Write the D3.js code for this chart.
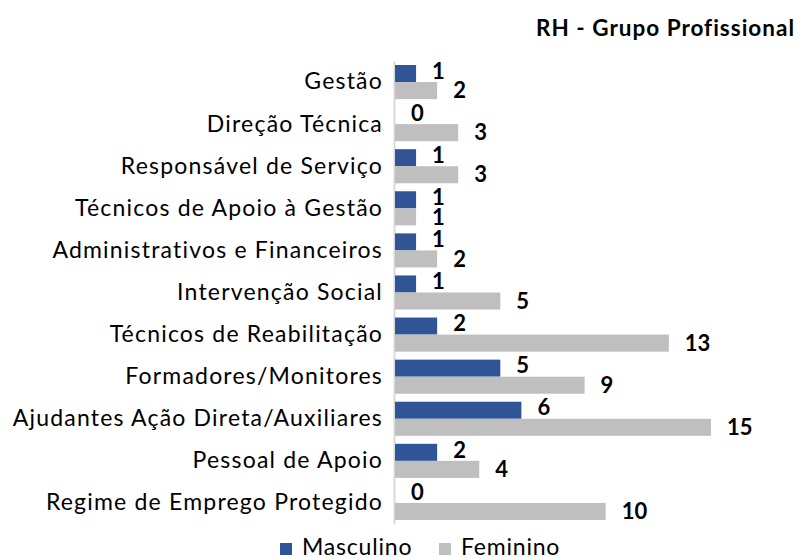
<!DOCTYPE html>
<html>
<head>
<meta charset="utf-8">
<script src="https://cdn.jsdelivr.net/npm/d3@7"></script>
<style>
  body { margin: 0; background: #fff; }
  text { font-family: Lato, "Open Sans", sans-serif; }
</style>
</head>
<body>
<div id="chart"></div>
<script>
// data
const categories = [
    "Gestão",
    "Direção Técnica",
    "Responsável de Serviço",
    "Técnicos de Apoio à Gestão",
    "Administrativos e Financeiros",
    "Intervenção Social",
    "Técnicos de Reabilitação",
    "Formadores/Monitores",
    "Ajudantes Ação Direta/Auxiliares",
    "Pessoal de Apoio",
    "Regime de Emprego Protegido"
];
const masculino = [1, 0, 1, 1, 1, 1, 2, 5, 6, 2, 0];
const feminino = [2, 3, 3, 1, 2, 5, 13, 9, 15, 4, 10];
const seriesNames = ["Masculino", "Feminino"];
const seriesColors = ["#2F5597", "#BFBFBF"];

const W = 801, H = 558;
const x0 = 395;

const svg = d3.select("#chart")
    .append("svg")
    .attr("width", W)
    .attr("height", H);

// scales
const xScale = d3.scaleLinear()
    .domain([0, 15])
    .range([x0, 711]);

const yScale = d3.scaleBand()
    .domain(categories)
    .range([61, 524])
    .paddingInner(0.19)
    .paddingOuter(0.095);

const inner = d3.scaleBand()
    .domain(seriesNames)
    .range([0, yScale.bandwidth()]);

// title
svg.append("text")
    .attr("x", 795)
    .attr("y", 36)
    .attr("text-anchor", "end")
    .style("font-weight", "bold")
    .style("font-size", "22.5px")
    .style("letter-spacing", "1px")
    .text("RH - Grupo Profissional");

// category axis
const yAxis = svg.append("g")
    .attr("transform", "translate(" + (x0 - 1) + ",0)")
    .call(d3.axisLeft(yScale).tickSize(0).tickPadding(11));
yAxis.select(".domain")
    .attr("stroke", "#D9D9D9")
    .attr("stroke-width", 2);
yAxis.selectAll(".tick text")
    .style("font-size", "23px")
    .style("letter-spacing", "1.2px")
    .style("fill", "#000")
    .style("font-family", "Lato, sans-serif");

// rows of data
const rows = categories.map(function (c, i) {
    return [
        { cat: c, s: seriesNames[0], v: masculino[i], color: seriesColors[0] },
        { cat: c, s: seriesNames[1], v: feminino[i], color: seriesColors[1] }
    ];
}).flat();

svg.selectAll("rect.bar")
    .data(rows)
    .enter()
    .append("rect")
    .attr("class", "bar")
    .attr("x", xScale(0))
    .attr("y", function (d) { return yScale(d.cat) + inner(d.s); })
    .attr("width", function (d) { return xScale(d.v) - xScale(0); })
    .attr("height", inner.bandwidth())
    .attr("fill", function (d) { return d.color; });

svg.selectAll("text.val")
    .data(rows)
    .enter()
    .append("text")
    .attr("class", "val")
    .attr("x", function (d) { return xScale(d.v) + 16; })
    .attr("y", function (d) {
        return yScale(d.cat) + inner(d.s) + inner.bandwidth() / 2 + (d.s === "Masculino" ? -2.5 : 0);
    })
    .attr("dy", "0.35em")
    .style("font-weight", "bold")
    .style("font-size", "22px")
    .text(function (d) { return d.v; });

// legend
const legendX = [280, 439];
const legend = svg.selectAll("g.legend")
    .data(seriesNames)
    .enter()
    .append("g")
    .attr("class", "legend")
    .attr("transform", function (d, i) { return "translate(" + legendX[i] + ",0)"; });
legend.append("rect")
    .attr("x", 0)
    .attr("y", 543)
    .attr("width", 12)
    .attr("height", 12)
    .attr("fill", function (d, i) { return seriesColors[i]; });
legend.append("text")
    .attr("x", 22)
    .attr("y", 547)
    .attr("dy", "0.35em")
    .style("font-size", "23px")
    .style("letter-spacing", "0.8px")
    .text(function (d) { return d; });
</script>
</body>
</html>
